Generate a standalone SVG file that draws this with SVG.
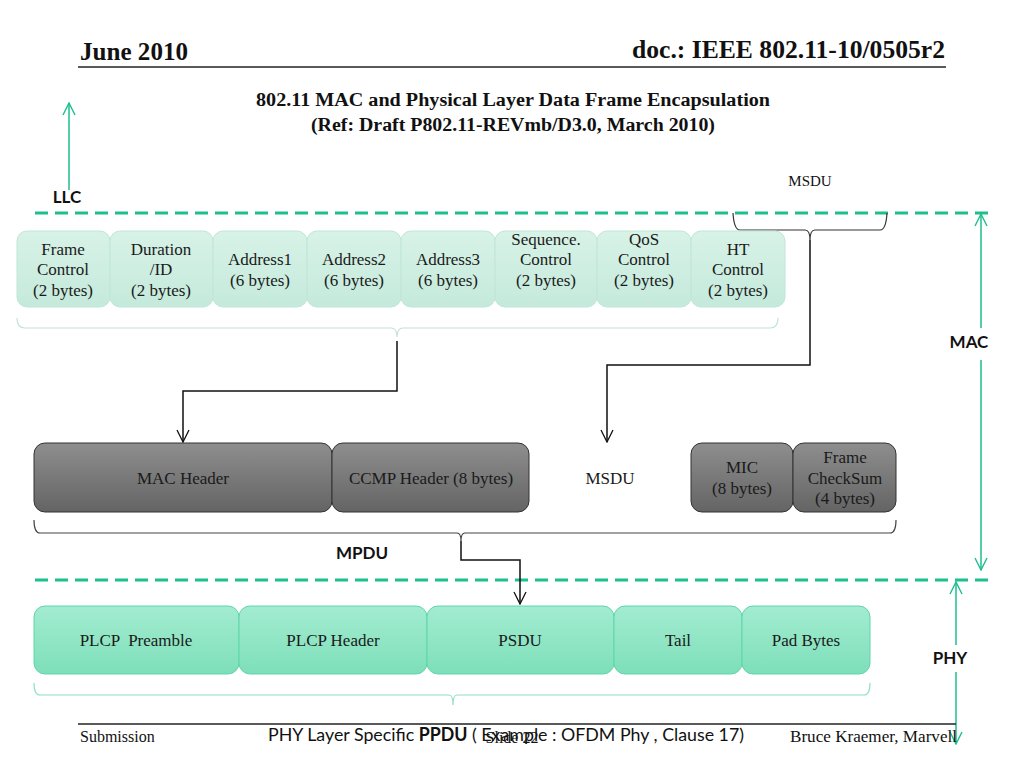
<svg xmlns="http://www.w3.org/2000/svg" width="1024" height="768" viewBox="0 0 1024 768">
<defs>
<linearGradient id="gField" x1="0" y1="0" x2="0" y2="1"><stop offset="0" stop-color="#d8f2e7"/><stop offset="1" stop-color="#c4eadb"/></linearGradient>
<linearGradient id="gGray" x1="0" y1="0" x2="0" y2="1"><stop offset="0" stop-color="#8e8e8e"/><stop offset="1" stop-color="#646464"/></linearGradient>
<linearGradient id="gPhy" x1="0" y1="0" x2="0" y2="1"><stop offset="0" stop-color="#a3ecd1"/><stop offset="1" stop-color="#7ddfb9"/></linearGradient>
<marker id="ag" viewBox="0 0 14 14" refX="13" refY="7" markerWidth="14" markerHeight="14" markerUnits="userSpaceOnUse" orient="auto-start-reverse"><polyline points="1,1 13,7 1,13" fill="none" stroke="#1dbf8e" stroke-width="1.4"/></marker>
<marker id="ak" viewBox="0 0 14 14" refX="13" refY="7" markerWidth="14" markerHeight="14" markerUnits="userSpaceOnUse" orient="auto-start-reverse"><polyline points="1,1 13,7 1,13" fill="none" stroke="#111" stroke-width="1.3"/></marker>
</defs>
<style>
.serif{font-family:"Liberation Serif","Times New Roman",serif;fill:#111}
.lbl{font-family:"Liberation Serif","Times New Roman",serif;font-size:17px;fill:#1a1a1a;text-anchor:middle}
.sans{font-family:Lato,"Open Sans","Liberation Sans",sans-serif;fill:#111}
.layer{font-family:Lato,"Open Sans","Liberation Sans",sans-serif;font-weight:bold;font-size:17px;fill:#111;text-anchor:middle}
.field{fill:url(#gField);stroke:#c0e6d6;stroke-width:1}
.gray{fill:url(#gGray);stroke:#333;stroke-width:1}
.phy{fill:url(#gPhy);stroke:#5ed6ab;stroke-width:1}
.dash{stroke:#1dbf8e;stroke-width:3;stroke-dasharray:13 7;fill:none}
.garrow{stroke:#1dbf8e;stroke-width:1.5;fill:none}
.conn{stroke:#111;stroke-width:1.5;fill:none}
</style>
<rect width="1024" height="768" fill="#fff"/>

<g id="header">
<text class="serif" x="80" y="60" font-size="25" font-weight="bold" textLength="108" lengthAdjust="spacingAndGlyphs">June 2010</text>
<text class="serif" x="945" y="58" font-size="25" font-weight="bold" text-anchor="end" textLength="313" lengthAdjust="spacingAndGlyphs">doc.: IEEE 802.11-10/0505r2</text>
<line x1="78" y1="67" x2="946" y2="67" stroke="#222" stroke-width="1.5"/>
<text class="serif" x="513" y="106" font-size="18" font-weight="bold" text-anchor="middle" textLength="514" lengthAdjust="spacingAndGlyphs">802.11 MAC and Physical Layer  Data Frame Encapsulation</text>
<text class="serif" x="513" y="131" font-size="18" font-weight="bold" text-anchor="middle" textLength="404" lengthAdjust="spacingAndGlyphs">(Ref: Draft P802.11-REVmb/D3.0, March 2010)</text>
</g>

<g id="layers">
<line class="dash" x1="35" y1="213" x2="992" y2="213"/>
<line class="dash" x1="35" y1="580" x2="992" y2="580"/>
<line class="garrow" x1="69" y1="190" x2="69" y2="103" marker-end="url(#ag)"/>
<text class="layer" x="67" y="203">LLC</text>
<line class="garrow" x1="981" y1="328" x2="981" y2="214" marker-end="url(#ag)"/>
<line class="garrow" x1="981" y1="360" x2="981" y2="570" marker-end="url(#ag)"/>
<text class="layer" x="969" y="348">MAC</text>
<line class="garrow" x1="956" y1="645" x2="956" y2="582" marker-end="url(#ag)"/>
<line class="garrow" x1="956" y1="672" x2="956" y2="744" marker-end="url(#ag)"/>
<text class="layer" x="950" y="664">PHY</text>
<text class="layer" x="362" y="559">MPDU</text>
</g>

<g id="msdu-top">
<text class="serif" x="810" y="186" font-size="15" text-anchor="middle">MSDU</text>
<path d="M733,213 Q734,230 740,230 L805,230 Q810,230 810,240 Q810,230 815,230 L880,230 Q886,230 887,213" fill="none" stroke="#333" stroke-width="1.2"/>
</g>

<g id="fields">
<g id="frame-control"><rect class="field" x="17" y="231" width="93" height="76" rx="10"/><text class="lbl" x="63" y="255">Frame</text><text class="lbl" x="63" y="275">Control</text><text class="lbl" x="63" y="296">(2 bytes)</text></g>
<g id="duration"><rect class="field" x="110" y="231" width="103" height="76" rx="10"/><text class="lbl" x="161" y="255">Duration</text><text class="lbl" x="161" y="275">/ID</text><text class="lbl" x="161" y="296">(2 bytes)</text></g>
<g id="address1"><rect class="field" x="213" y="231" width="94" height="76" rx="10"/><text class="lbl" x="260" y="265">Address1</text><text class="lbl" x="260" y="286">(6 bytes)</text></g>
<g id="address2"><rect class="field" x="307" y="231" width="94" height="76" rx="10"/><text class="lbl" x="354" y="265">Address2</text><text class="lbl" x="354" y="286">(6 bytes)</text></g>
<g id="address3"><rect class="field" x="401" y="231" width="94" height="76" rx="10"/><text class="lbl" x="448" y="265">Address3</text><text class="lbl" x="448" y="286">(6 bytes)</text></g>
<g id="sequence"><rect class="field" x="495" y="231" width="102" height="76" rx="10"/><text class="lbl" x="546" y="245">Sequence.</text><text class="lbl" x="546" y="265">Control</text><text class="lbl" x="546" y="286">(2 bytes)</text></g>
<g id="qos"><rect class="field" x="597" y="231" width="94" height="76" rx="10"/><text class="lbl" x="644" y="245">QoS</text><text class="lbl" x="644" y="265">Control</text><text class="lbl" x="644" y="286">(2 bytes)</text></g>
<g id="ht"><rect class="field" x="691" y="231" width="94" height="76" rx="10"/><text class="lbl" x="738" y="255">HT</text><text class="lbl" x="738" y="275">Control</text><text class="lbl" x="738" y="296">(2 bytes)</text></g>
<path d="M17,318 Q17,328 25,328 L391,328 Q397,328 397,337 Q397,328 403,328 L770,328 Q778,328 778,318" fill="none" stroke="#c4e3d6" stroke-width="1.2"/>
</g>

<g id="mpdu">
<g id="mac-header"><rect class="gray" x="34" y="443" width="298" height="69" rx="11"/><text class="lbl" x="183" y="484">MAC Header</text></g>
<g id="ccmp-header"><rect class="gray" x="332" y="443" width="197" height="69" rx="11"/><text class="lbl" x="431" y="484">CCMP Header (8 bytes)</text></g>
<g id="msdu"><text class="lbl" x="610" y="484">MSDU</text></g>
<g id="mic"><rect class="gray" x="691" y="443" width="102" height="69" rx="11"/><text class="lbl" x="742" y="473">MIC</text><text class="lbl" x="742" y="494">(8 bytes)</text></g>
<g id="fcs"><rect class="gray" x="793" y="443" width="103" height="69" rx="11"/><text class="lbl" x="845" y="463">Frame</text><text class="lbl" x="845" y="484">CheckSum</text><text class="lbl" x="845" y="504">(4 bytes)</text></g>
<path d="M34,520 Q34,533 40,533 L457,533 Q461,533 461,541 Q461,533 465,533 L890,533 Q896,533 896,520" fill="none" stroke="#444" stroke-width="1.2"/>
</g>

<g id="ppdu">
<g id="plcp-preamble"><rect class="phy" x="34" y="606" width="205" height="68" rx="11"/><text class="lbl" x="136" y="646" xml:space="preserve">PLCP  Preamble</text></g>
<g id="plcp-header"><rect class="phy" x="239" y="606" width="188" height="68" rx="11"/><text class="lbl" x="333" y="646">PLCP Header</text></g>
<g id="psdu"><rect class="phy" x="427" y="606" width="187" height="68" rx="11"/><text class="lbl" x="520" y="646">PSDU</text></g>
<g id="tail"><rect class="phy" x="614" y="606" width="128" height="68" rx="11"/><text class="lbl" x="678" y="646">Tail</text></g>
<g id="pad-bytes"><rect class="phy" x="742" y="606" width="128" height="68" rx="11"/><text class="lbl" x="806" y="646">Pad Bytes</text></g>
<path d="M34,683 Q34,695 40,695 L449,695 Q453,695 453,705 Q453,695 457,695 L864,695 Q870,695 870,683" fill="none" stroke="#8fe0c2" stroke-width="1.2"/>
</g>

<g id="connectors">
<path class="conn" d="M397,341 V391 H183 V442" marker-end="url(#ak)"/>
<path class="conn" d="M810,240 V365 H607 V442" marker-end="url(#ak)"/>
<path class="conn" d="M461,541 V560 H520 V604" marker-end="url(#ak)"/>
</g>

<g id="footer">
<line x1="78" y1="724" x2="956" y2="724" stroke="#222" stroke-width="1.5"/>
<text class="serif" x="80" y="742" font-size="16">Submission</text>
<text class="sans" x="268" y="741" font-size="18" textLength="476" lengthAdjust="spacingAndGlyphs">PHY Layer Specific <tspan font-weight="bold">PPDU</tspan> ( Example : OFDM Phy , Clause 17)</text>
<text class="serif" x="512" y="743" font-size="16" text-anchor="middle">Slide 22</text>
<text class="serif" x="957" y="742" font-size="16" text-anchor="end" textLength="167" lengthAdjust="spacingAndGlyphs">Bruce Kraemer, Marvell</text>
</g>
</svg>
